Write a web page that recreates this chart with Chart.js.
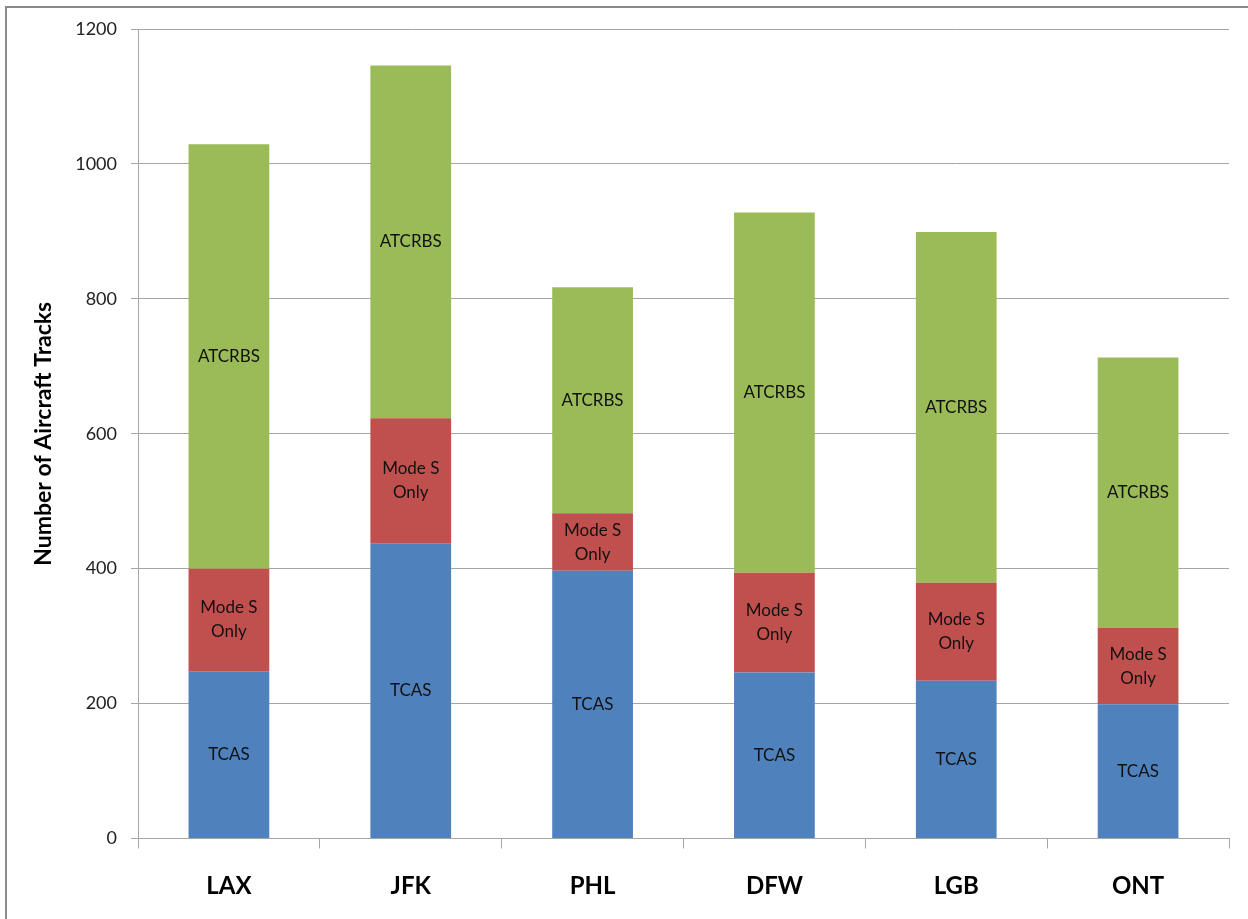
<!DOCTYPE html>
<html>
<head>
<meta charset="utf-8">
<script src="https://cdn.jsdelivr.net/npm/chart.js@4.4.1/dist/chart.umd.min.js"></script>
<style>
    html, body { margin: 0; padding: 0; background: #fff; }
    #wrap { position: relative; width: 1248px; height: 919px; }
    #frame {
        position: absolute; left: 5px; top: 6px; right: 0; bottom: 0;
        border-left: 2px solid #8a8a8a; border-top: 2px solid #8a8a8a;
        pointer-events: none;
    }
</style>
</head>
<body>
<div id="wrap">
    <canvas id="tracksChart" width="1248" height="919"></canvas>
    <div id="frame"></div>
</div>
<script>
// --- data ---
const airports = ['LAX', 'JFK', 'PHL', 'DFW', 'LGB', 'ONT'];
const tcas = [248, 437, 397, 246, 234, 199];
const modeSOnly = [152, 186, 85, 148, 145, 113];
const atcrbs = [629, 523, 335, 534, 520, 401];
const yTicks = [0, 200, 400, 600, 800, 1000, 1200];

const segmentLabels = ['TCAS', ['Mode S', 'Only'], 'ATCRBS'];

// draws the segment names in the middle of each stacked piece
const segmentLabelPlugin = {
    id: 'segmentLabels',
    afterDatasetsDraw(chart) {
        const ctx = chart.ctx;
        ctx.save();
        ctx.font = '17px Lato';
        ctx.fillStyle = '#111';
        ctx.textAlign = 'center';
        ctx.textBaseline = 'middle';
        chart.data.datasets.forEach((ds, i) => {
            const meta = chart.getDatasetMeta(i);
            const text = segmentLabels[i];
            const lines = Array.isArray(text) ? text : [text];
            meta.data.forEach(bar => {
                const cy = (bar.y + bar.base) / 2;
                const lh = 24;
                const start = cy - (lines.length - 1) * lh / 2;
                lines.forEach((line, k) => ctx.fillText(line, bar.x, start + k * lh));
            });
        });
        ctx.restore();
    }
};

const ctx = document.getElementById('tracksChart')?.getContext('2d');
if (ctx) {
    new Chart(ctx, {
        type: 'bar',
        data: {
            labels: airports,
            datasets: [{
                label: 'TCAS',
                data: tcas,
                backgroundColor: '#4F81BD'
            }, {
                label: 'Mode S Only',
                data: modeSOnly,
                backgroundColor: '#C0504D'
            }, {
                label: 'ATCRBS',
                data: atcrbs,
                backgroundColor: '#9BBB59'
            }]
        },
        options: {
            responsive: false,
            animation: false,
            barPercentage: 0.444,
            categoryPercentage: 1,
            layout: {
                padding: { top: 29, right: 19, bottom: 0, left: 0 }
            },
            plugins: {
                legend: { display: false },
                tooltip: { enabled: false }
            },
            scales: {
                x: {
                    stacked: true,
                    grid: {
                        drawOnChartArea: false,
                        drawTicks: true,
                        tickLength: 10,
                        color: '#a6a6a6',
                        offset: true
                    },
                    border: { color: '#a6a6a6' },
                    ticks: {
                        font: { family: 'Lato', size: 24, weight: 'bold' },
                        color: '#000',
                        padding: 23
                    },
                    afterFit(scale) { scale.height = 919 - 838.5; }
                },
                y: {
                    stacked: true,
                    min: 0,
                    max: 1200,
                    afterBuildTicks(scale) {
                        scale.ticks = yTicks.map(v => ({ value: v }));
                    },
                    grid: {
                        color: '#a6a6a6',
                        tickLength: 7
                    },
                    border: { color: '#a6a6a6' },
                    ticks: {
                        font: { family: 'Lato', size: 18 },
                        color: '#222',
                        padding: 14,
                        callback: v => String(v)
                    },
                    title: {
                        display: true,
                        text: 'Number of Aircraft Tracks',
                        font: { family: 'Lato', size: 23, weight: 'bold' },
                        color: '#000',
                        padding: { top: 30, bottom: 0 }
                    },
                    afterFit(scale) { scale.width = 138; }
                }
            }
        },
        plugins: [segmentLabelPlugin]
    });
} else {
    console.warn("Chart context not found, missing element with id 'tracksChart'.");
}
</script>
</body>
</html>
